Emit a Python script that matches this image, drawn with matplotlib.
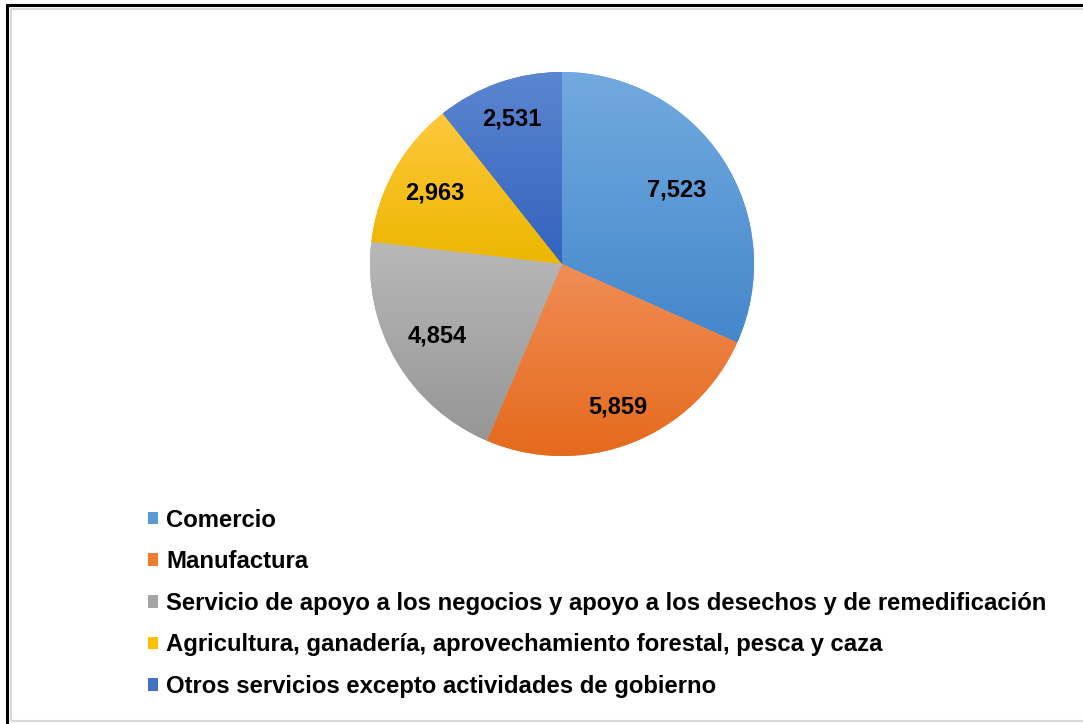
import numpy as np
import matplotlib
matplotlib.use("Agg")
import matplotlib.pyplot as plt
from matplotlib.patches import Patch
from matplotlib.lines import Line2D
from matplotlib.colors import to_rgb

plt.rcParams['font.family'] = ['Liberation Sans', 'DejaVu Sans']

# datos
sectores = [
    "Comercio",
    "Manufactura",
    "Servicio de apoyo a los negocios y apoyo a los desechos y de remedificación",
    "Agricultura, ganadería, aprovechamiento forestal, pesca y caza",
    "Otros servicios excepto actividades de gobierno",
]
valores = [7523, 5859, 4854, 2963, 2531]
etiquetas = ["7,523", "5,859", "4,854", "2,963", "2,531"]

# colores (arriba claro, abajo oscuro) como en Excel
color_base = ["#5B9BD5", "#ED7D31", "#A5A5A5", "#FFC000", "#4472C4"]
color_claro = ["#72AADF", "#F08D55", "#B8B8B8", "#FFC83C", "#5B86D0"]
color_oscuro = ["#4487CB", "#E56A1C", "#969696", "#EBB700", "#3362BE"]
dist_etiqueta = [0.71, 0.80, 0.75, 0.76, 0.80]

W, H = 1083, 724
fig = plt.figure(figsize=(W / 100, H / 100), dpi=100)

# pastel
cx, cy, r = 562, 264, 192
ax = fig.add_axes([(cx - r) / W, (H - cy - r) / H, 2 * r / W, 2 * r / H])
wedges, _ = ax.pie(valores, startangle=90, counterclock=False, radius=1,
                   colors=color_base, wedgeprops=dict(linewidth=0))

for i, w in enumerate(wedges):
    # degradado vertical dentro de cada rebanada
    bb = w.get_path().get_extents(w.get_patch_transform())
    c1 = np.array(to_rgb(color_claro[i]))
    c2 = np.array(to_rgb(color_oscuro[i]))
    t = np.linspace(0, 1, 256)[:, None]
    grad = (c1 * (1 - t) + c2 * t)[:, None, :]
    im = ax.imshow(grad, extent=[bb.x0, bb.x1, bb.y0, bb.y1], origin='upper',
                   aspect='auto', interpolation='bilinear', zorder=2)
    im.set_clip_path(w)
    ang = np.deg2rad((w.theta1 + w.theta2) / 2)
    d = dist_etiqueta[i]
    ax.text(d * np.cos(ang), d * np.sin(ang), etiquetas[i], ha='center',
            va='center', fontsize=17, fontweight='bold', color='black', zorder=3)
ax.set_xlim(-1, 1)
ax.set_ylim(-1, 1)
ax.set_aspect('auto')
ax.axis('off')

# leyenda
handles = [Patch(facecolor=c) for c in color_base]
fig.legend(handles, sectores, loc='upper left',
           bbox_to_anchor=(138 / W, 1 - 499 / H), frameon=False,
           prop=dict(size=17.2, weight='bold'), handlelength=0.45,
           handleheight=0.45, handletextpad=0.32, labelspacing=0.78,
           borderaxespad=0)

# marco
def linea(x0, y0, x1, y1, color, lw):
    fig.add_artist(Line2D([x0 / W, x1 / W], [1 - y0 / H, 1 - y1 / H],
                          color=color, linewidth=lw, solid_capstyle='butt'))

linea(5.5, 5, W, 5, 'black', 2.2)
linea(7, 3.5, 7, H, 'black', 2.2)
linea(10.5, 8.5, W, 8.5, '#D9D9D9', 1.5)
linea(10.5, 8.5, 10.5, 721, '#D9D9D9', 1.5)
linea(10.5, 721, W, 721, '#D9D9D9', 1.5)

fig.savefig("out.png", dpi=100)
